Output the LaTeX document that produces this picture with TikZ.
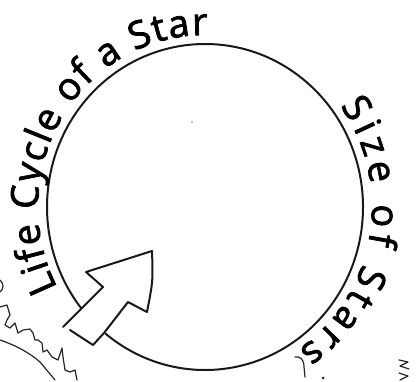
\documentclass[tikz,border=0pt]{standalone}
\usepackage{fontspec}
\newfontfamily\handfont[FakeBold=2]{Open Sans}
\usetikzlibrary{decorations.text}
\tikzset{
  pen/.style={draw=black!90, line width=2pt, line cap=round, line join=round},
  thinpen/.style={draw=black!85, line width=1.2pt, line cap=round, line join=round},
}
\newcommand{\hw}{\handfont\fontsize{38}{40}\selectfont}
\begin{document}
\begin{tikzpicture}[x=1pt,y=1pt]
\useasboundingbox (0,0) rectangle (417,381);
\fill[white] (0,0) rectangle (417,381);
\coordinate (c) at (205,174);
% circle with a gap where the arrow enters
\draw[pen] (c) ++(231:158 and 163) arc[start angle=231, end angle=578.5, x radius=158, y radius=163];
% arrow
\draw[pen] (63,54) -- (103,94) -- (86,109) -- (152,130) .. controls (153,100) .. (147,69) -- (128,79) -- (104,48) -- (93,36) -- (70,51);
% curved titles
\path[decorate, decoration={text along path, text={|\hw|Life Cycle of a Star}, text align={fit to path}}]
  (c) ++(208:167 and 172) arc[start angle=208, end angle=89, x radius=167, y radius=172];
\path[decorate, decoration={text along path, text={|\hw|Size of Stars}, text align={fit to path}}]
  (c) ++(36:167 and 172) arc[start angle=36, end angle=-56, x radius=167, y radius=172];
% fragments of neighbouring drawings
\draw[thinpen] (0,74) -- (7,76) -- (10,66) -- (7,61) -- (5,56) -- (10,53) -- (15,58) -- (18,48) -- (23,51) -- (30,52) -- (33,48) -- (35,41) -- (38,41) -- (42,38) -- (43,29) -- (47,31) -- (52,24) -- (58,21) -- (62,33) -- (63,24) -- (65,11) -- (70,9) -- (75,11) -- (77,1);
\draw[thinpen] (0,41) .. controls (15,36) and (30,28) .. (40,19) -- (55,1);
\draw[thinpen] (0,101) .. controls (4,97) and (4,92) .. (0,89);
\draw[thinpen] (295,24) .. controls (300,25) and (304,22) .. (304,14) -- (305,4);
\fill[black!85] (323,3) circle (1.5);
\draw[thinpen] (399,21) -- (408,19) -- (400,15) -- (409,12);
\draw[thinpen] (399,8) -- (408,5) -- (400,1);
\fill[black!50] (192,259) circle (0.8);
\end{tikzpicture}
\end{document}
